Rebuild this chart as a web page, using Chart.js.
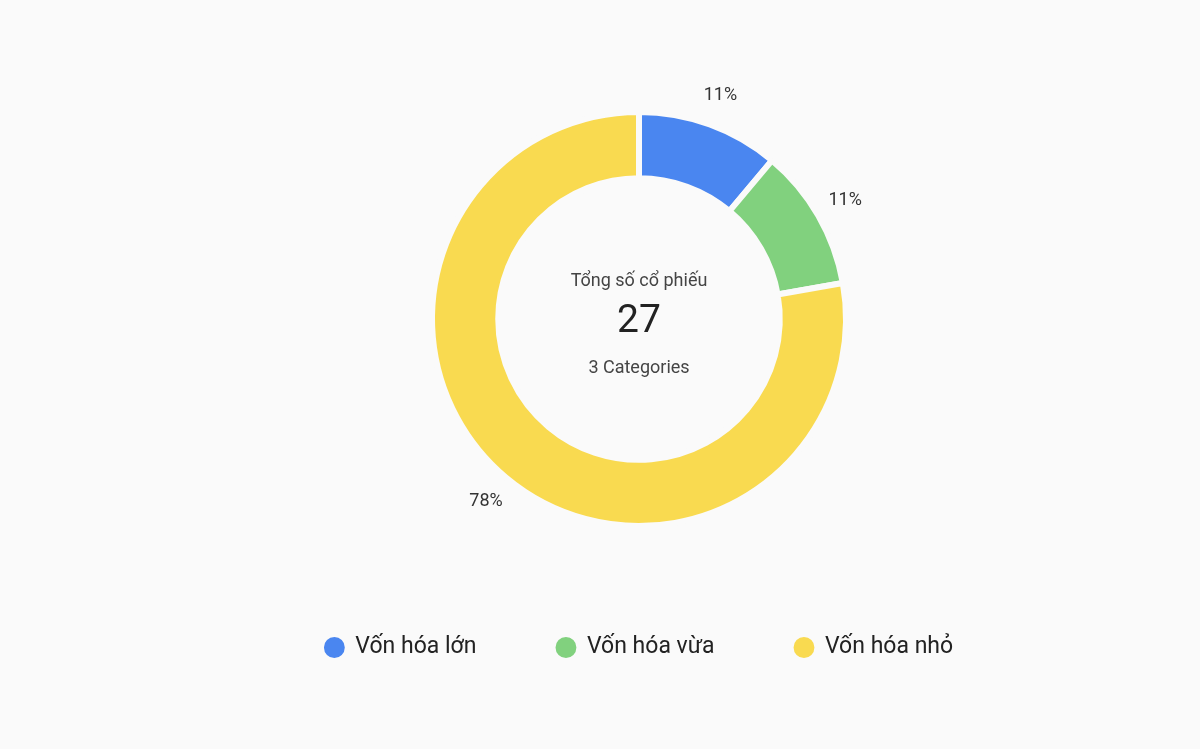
<!DOCTYPE html>
<html>
<head>
<meta charset="utf-8">
<script src="https://cdn.jsdelivr.net/npm/chart.js@4"></script>
<style>
html,body{margin:0;padding:0;background:#fafafa;}
#wrap{width:1200px;height:749px;position:relative;}
</style>
</head>
<body>
<div id="wrap"><canvas id="c" width="1200" height="749"></canvas></div>
<script>
const categories = ["Vốn hóa lớn", "Vốn hóa vừa", "Vốn hóa nhỏ"];
const counts = [3, 3, 21];
const colors = ["#4a86f0", "#81d17e", "#f9da50"];
const centerTitle = "Tổng số cổ phiếu";
const centerSubtitle = "3 Categories";

const FONT = "Roboto, 'Liberation Sans', sans-serif";
const total = counts.reduce((a, b) => a + b, 0);

const labelsPlugin = {
  id: 'outerLabels',
  afterDatasetsDraw(chart) {
    const ctx = chart.ctx;
    const meta = chart.getDatasetMeta(0);
    ctx.save();
    ctx.font = "18px " + FONT;
    ctx.fillStyle = "#333";
    ctx.textAlign = "center";
    ctx.textBaseline = "middle";
    meta.data.forEach((arc, i) => {
      const p = arc.getProps(['x', 'y', 'startAngle', 'endAngle', 'outerRadius'], true);
      const mid = (p.startAngle + p.endAngle) / 2;
      const r = p.outerRadius + 31;
      const pct = Math.round(counts[i] / total * 100) + "%";
      ctx.fillText(pct, p.x + Math.cos(mid) * r, p.y + Math.sin(mid) * r);
    });
    const a0 = meta.data[0];
    const cx = a0.x, cy = a0.y;
    ctx.fillStyle = "#444";
    ctx.font = "18px " + FONT;
    ctx.fillText(centerTitle, cx, cy - 38);
    ctx.fillStyle = "#222";
    ctx.font = "39px " + FONT;
    ctx.fillText(String(total), cx, cy + 3);
    ctx.fillStyle = "#444";
    ctx.font = "18px " + FONT;
    ctx.fillText(centerSubtitle, cx, cy + 49);
    ctx.restore();
  }
};

new Chart(document.getElementById('c'), {
  type: 'doughnut',
  data: {
    labels: categories,
    datasets: [{
      data: counts,
      backgroundColor: colors,
      borderColor: "#fafafa",
      borderWidth: 6,
      hoverOffset: 0
    }]
  },
  options: {
    responsive: false,
    animation: false,
    radius: 207,
    cutout: '68%',
    layout: { padding: { left: 78, top: 82, bottom: 80, right: 0 } },
    plugins: {
      tooltip: { enabled: false },
      legend: {
        position: 'bottom',
        labels: {
          usePointStyle: true,
          pointStyle: 'circle',
          boxHeight: 19,
          boxWidth: 19,
          padding: 80,
          color: "#222",
          font: { size: 23, family: FONT }
        }
      }
    }
  },
  plugins: [labelsPlugin]
});
</script>
</body>
</html>
